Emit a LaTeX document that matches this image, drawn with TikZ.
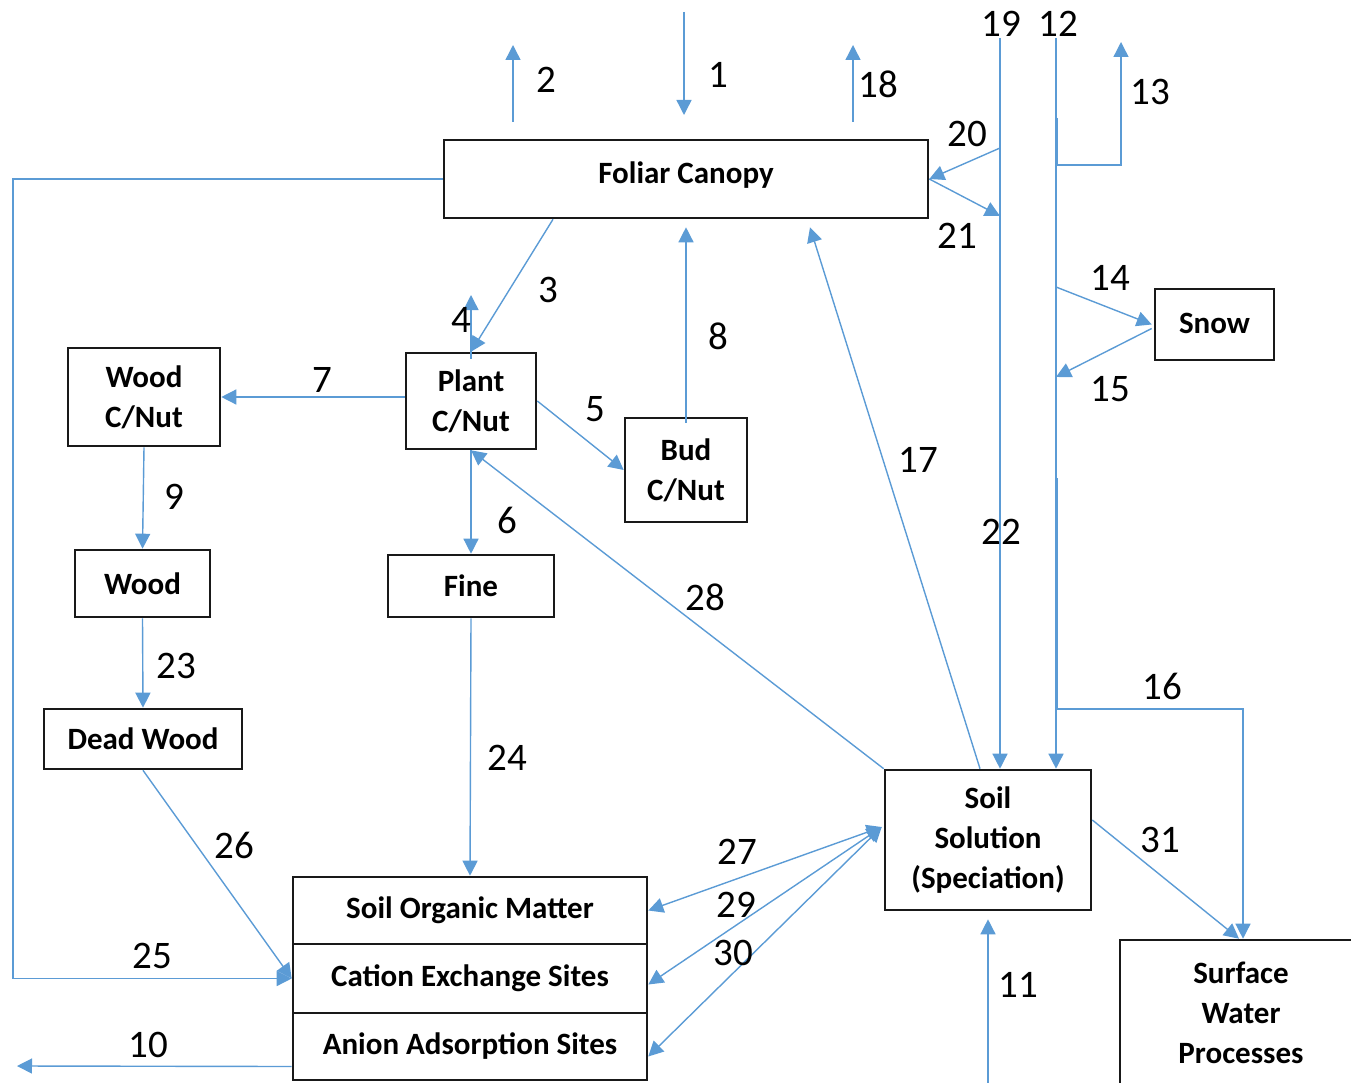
\documentclass[tikz,border=0pt]{standalone}
\usepackage{fontspec}
\setmainfont{Carlito}
\usetikzlibrary{arrows.meta,calc}
\definecolor{flowblue}{RGB}{91,155,213}
\tikzset{
  arrowtip/.tip={Triangle[length=15pt,width=15pt]},
  box/.style={draw=black!90, line width=2.6pt, inner sep=0pt, align=center,
    font=\bfseries\fontsize{31}{40}\selectfont},
  flow/.style={draw=flowblue, line width=1.4pt, -arrowtip},
  both/.style={flow, arrowtip-arrowtip},
  num/.style={inner sep=0pt, font=\fontsize{39}{40}\selectfont},
}
\begin{document}
\begin{tikzpicture}[x=1pt,y=-1pt]
\useasboundingbox (0,0) rectangle (1351,1083);

% pools
\node[box, minimum width=484pt, minimum height=78pt] (canopy) at (686,179) {\raisebox{12pt}{Foliar Canopy}};
\node[box, minimum width=130pt, minimum height=96pt] (plant) at (471,401) {Plant\\C/Nut};
\node[box, minimum width=152pt, minimum height=98pt] (woodcn) at (144,397) {Wood\\C/Nut};
\node[box, minimum width=122pt, minimum height=104pt] (bud) at (686,470) {Bud\\C/Nut};
\node[box, minimum width=135pt, minimum height=67pt] (wood) at (142.5,583.5) {Wood};
\node[box, minimum width=166pt, minimum height=62pt] (fine) at (471,586) {Fine};
\node[box, minimum width=198pt, minimum height=60pt] (dead) at (143,739) {Dead Wood};
\node[box, minimum width=206pt, minimum height=140pt] (soilsol) at (988,840) {\raisebox{-3pt}{\parbox{206pt}{\centering Soil\\Solution\\(Speciation)}}};
\node[box, minimum width=119pt, minimum height=71pt] (snow) at (1214.5,324.5) {\raisebox{3pt}{Snow}};
\node[box, minimum width=242pt, minimum height=146pt] (surface) at (1241,1013) {Surface\\Water\\Processes};
\node[box, minimum width=354pt, minimum height=67pt] (som) at (470,910.5) {Soil Organic Matter};
\node[box, minimum width=354pt, minimum height=69pt] (cation) at (470,978.5) {Cation Exchange Sites};
\node[box, minimum width=354pt, minimum height=67pt] (anion) at (470,1046.5) {Anion Adsorption Sites};

% free ends
\coordinate (a1) at (684,12);
\coordinate (b1) at (684,115);
\coordinate (a2) at (513,122);
\coordinate (b2) at (513,45);
\coordinate (a18) at (853,122);
\coordinate (b18) at (853,45);
\coordinate (a19) at (1000,38);
\coordinate (a12) at (1056,38);
\coordinate (a13) at (1057,118);
\coordinate (b13) at (1121,42);
\coordinate (j20) at (1000,148);
\coordinate (j21) at (1000,216);
\coordinate (j14) at (1056,287);
\coordinate (j15) at (1056,377);
\coordinate (a16) at (1057,478);
\coordinate (k16) at (1057,709);
\coordinate (b4) at (471,295);
\coordinate (k25) at (13,978.5);
\coordinate (b10) at (17,1066);
\coordinate (a11) at (988,1083);

% fluxes
\draw[flow] (a1) -- (b1);
\draw[flow] (a2) -- (b2);
\draw[flow] (a18) -- (b18);
\draw[flow] (a19) -- (a19 |- soilsol.north);
\draw[flow] (a12) -- (a12 |- soilsol.north);
\draw[flow] (a13) -- ++(0,47) -| (b13);
\draw[flow] (j20) -- (canopy.east);
\draw[flow] (canopy.east) -- (j21);
\draw[flow] (j14) -- ($(snow.west)+(-2,0)$);
\draw[flow] ($(snow.west)+(-2,4)$) -- (j15);
\draw[flow] (a16) -- (k16) -| ($(surface.north)+(2,0)$);
\draw[flow] ($(canopy.south)+(-133,0)$) -- (plant.north);
\draw[flow] ($(plant.north)+(0,7)$) -- (b4);
\draw[flow] ($(bud.north)+(0,6)$) -- ($(canopy.south)+(0,8)$);
\draw[flow] (plant.east) -- (bud.west);
\draw[flow] (plant.west |- woodcn.east) -- (woodcn.east);
\draw[flow] (plant.south) -- (fine.north);
\draw[flow] (soilsol.north west) -- (plant.south);
\draw[flow] ($(soilsol.north)+(-8,0)$) -- ($(canopy.south)+(124,8)$);
\draw[flow] (woodcn.south) -- (wood.north);
\draw[flow] (wood.south) -- (dead.north);
\draw[flow] (fine.south) -- (som.north);
\draw[flow] (dead.south) -- (cation.west);
\draw[flow] (canopy.west) -| (k25) -- (cation.west);
\draw[flow] ($(anion.west)+(0,20)$) -- (b10);
\draw[both] (som.east) -- ($(soilsol.west)+(-2,-13)$);
\draw[both] ($(cation.east)+(0,6)$) -- ($(soilsol.west)+(-2,-13)$);
\draw[both] ($(anion.east)+(0,10)$) -- ($(soilsol.west)+(-2,-13)$);
\draw[flow] (a11) -- ($(soilsol.south)+(0,8)$);
\draw[flow] ($(soilsol.east)+(0,-20)$) -- ($(surface.north)+(-2,0)$);

% flux numbers
\foreach \n/\x/\y in {1/718/75, 2/546/80, 18/878/84, 19/1001/24, 12/1058/24,
    13/1150/92, 20/967/134, 21/957/236, 14/1110/278, 15/1110/389, 3/548/290,
    4/461/320, 8/718/336, 7/322/380, 5/595/409, 17/918/460, 9/174/497,
    6/507/520, 22/1001/532, 28/705/597, 23/176/666, 16/1162/686, 24/507/758,
    26/234/845, 31/1160/840, 27/737/852, 29/736/905, 30/733/953, 25/152/956,
    11/1018/985, 10/148/1045}
  \node[num] (n\n) at (\x,\y) {\n};
\end{tikzpicture}
\end{document}
